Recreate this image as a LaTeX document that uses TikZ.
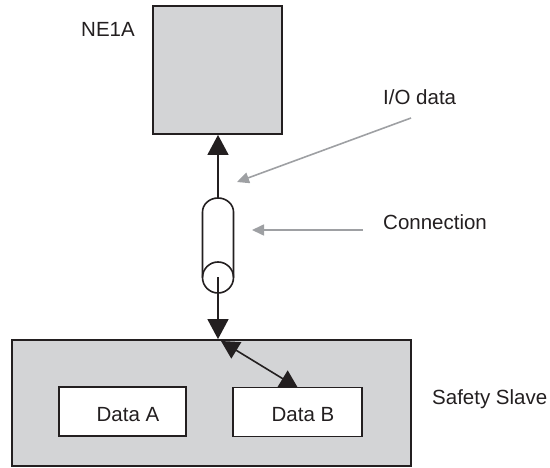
\documentclass[tikz,border=0pt]{standalone}
\usepackage{fontspec}
\setmainfont{Liberation Sans}
\usetikzlibrary{arrows.meta}
\definecolor{boxfill}{RGB}{211,212,214}
\definecolor{lineblk}{RGB}{35,31,32}
\definecolor{pointer}{RGB}{158,160,163}
\begin{document}
\begin{tikzpicture}[x=1pt,y=-1pt,
  box/.style={draw=lineblk,line width=1.8pt,fill=boxfill,inner sep=0pt},
  databox/.style={draw=lineblk,line width=1.8pt,fill=white,inner sep=0pt,minimum width=127pt,minimum height=49pt},
  lbl/.style={inner sep=0pt,anchor=base west,font=\fontsize{20.5}{24}\selectfont,text=lineblk},
  dlbl/.style={inner sep=0pt,anchor=base,font=\fontsize{20.5}{24}\selectfont,text=lineblk},
  flow/.style={draw=lineblk,line width=1.6pt,-{Triangle[length=20pt,width=21pt]}},
  dflow/.style={draw=lineblk,line width=1.6pt,{Triangle[length=18pt,width=19pt]}-{Triangle[length=18pt,width=19pt]}},
  ptr/.style={draw=pointer,line width=1.6pt,-{Triangle[length=12pt,width=11pt]}},
  cable/.style={draw=lineblk,line width=1.6pt}]
\useasboundingbox (0,0) rectangle (550,468);
% boxes
\node[box,minimum width=129pt,minimum height=128pt] (ne1a) at (217.5,70) {};
\node[box,minimum width=399pt,minimum height=126pt] (slave) at (211.5,403) {};
\node[databox] (dataA) at (122.5,411.5) {};
\node[databox,minimum width=129pt] (dataB) at (297.5,412) {};
% labels
\node[lbl] (tne1a) at (81,37) {NE1A};
\node[lbl] (tio) at (383,105) {I/O data};
\node[lbl] (tconn) at (383,230) {Connection};
\node[lbl] (tslave) at (432,405) {Safety Slave};
\node[dlbl] (tA) at (128,421) {Data A};
\node[dlbl] (tB) at (303,421) {Data B};
% cable (connection)
\coordinate (captop) at (218,198);
\coordinate (capc) at (218,277.5);
\draw[cable] (202.5,277.5) -- (202.5,212) arc[start angle=180,end angle=360,x radius=15.5,y radius=14] -- (233.5,277.5);
\draw[cable] (capc) circle[radius=15.5];
% flows
\draw[flow] (captop) -- (captop |- ne1a.south);
\draw[flow] (capc) -- (capc |- slave.north);
\coordinate (dstart) at (221,341);
\coordinate (dend) at (298,388);
\draw[dflow] (dstart) -- (dend);
% pointers
\coordinate (p1s) at (411,118);
\coordinate (p1e) at (237,182);
\coordinate (p2s) at (363,230);
\coordinate (p2e) at (252,230);
\draw[ptr] (p1s) -- (p1e);
\draw[ptr] (p2s) -- (p2e);
\end{tikzpicture}
\end{document}
